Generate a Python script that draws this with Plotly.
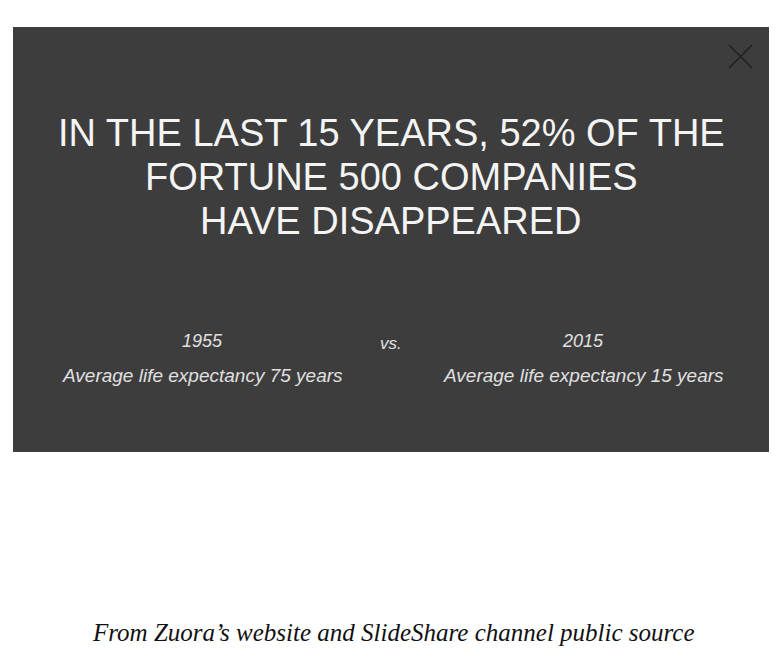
import plotly.graph_objects as go

# slide content
headline = ["IN THE LAST 15 YEARS, 52% OF THE", "FORTUNE 500 COMPANIES", "HAVE DISAPPEARED"]
years = ["1955", "2015"]
life_expectancy = [75, 15]
caption = "From Zuora’s website and SlideShare channel public source"

W, H = 779, 664
D = 8  # page body margin offset
fig = go.Figure()

# dark slide panel
fig.add_shape(type="rect", x0=13 - D, x1=769 - D, y0=27 - D, y1=452 - D,
              fillcolor="#3d3d3d", line=dict(width=0), layer="below")
# close "X"
for x0, y0, x1, y1 in [(729, 45, 752, 68), (729, 68, 752, 45)]:
    fig.add_shape(type="line", x0=x0 - D, y0=y0 - D, x1=x1 - D, y1=y1 - D,
                  line=dict(color="#1e1e1e", width=1.5))

for i, line in enumerate(headline):
    fig.add_annotation(x=391 - D, y=133 + 44 * i - D, text=line, showarrow=False,
                       font=dict(family="Liberation Sans", size=38, color="#f4f4f4"))

xs = [202, 583]
for x, yr, le in zip(xs, years, life_expectancy):
    fig.add_annotation(x=x - D, y=341 - D, text=f"<i>{yr}</i>", showarrow=False,
                       font=dict(family="Liberation Sans", size=18, color="#e0e0e0"))
    fig.add_annotation(x=x - D, y=375 - D, text=f"<i>Average life expectancy {le} years</i>",
                       showarrow=False,
                       font=dict(family="Liberation Sans", size=19, color="#e0e0e0"))
fig.add_annotation(x=391 - D, y=343 - D, text="<i>vs.</i>", showarrow=False,
                   font=dict(family="Liberation Sans", size=17, color="#e0e0e0"))

fig.add_annotation(x=393 - D, y=632 - D, text=f"<i>{caption}</i>", showarrow=False,
                   font=dict(family="Liberation Serif", size=25, color="#111111"))

fig.update_xaxes(range=[0, W], visible=False, fixedrange=True)
fig.update_yaxes(range=[H, 0], visible=False, fixedrange=True)
fig.update_layout(width=W, height=H, margin=dict(l=0, r=0, t=0, b=0),
                  plot_bgcolor="white", paper_bgcolor="white", showlegend=False)
fig.write_html("out.html")
